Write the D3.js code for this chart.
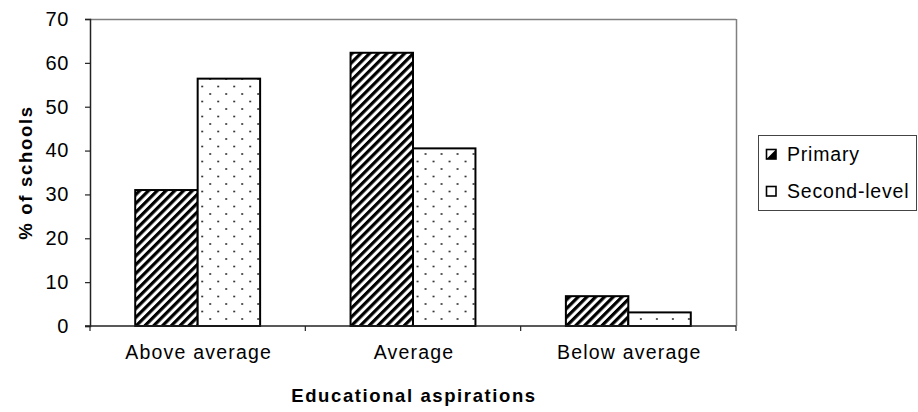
<!DOCTYPE html>
<html><head><meta charset="utf-8">
<script src="https://cdn.jsdelivr.net/npm/d3@7"></script>
<style>
html,body{margin:0;padding:0;background:#fff;}
svg{display:block;font-family:"Liberation Sans",Arial,sans-serif;}
</style></head>
<body>
<svg id="chart" width="918" height="412"></svg>
<script>
const categories = ["Above average", "Average", "Below average"];
const seriesNames = ["Primary", "Second-level"];
const primaryValues = [31, 62.3, 6.8];
const secondLevelValues = [56.4, 40.5, 3.1];
const yTicks = [0, 10, 20, 30, 40, 50, 60, 70];
const yTitle = "% of schools";
const xTitle = "Educational aspirations";

const svg = d3.select("#chart");
const L = 90, R = 736, T = 19, B = 326;

const defs = svg.append("defs");
const hatch = defs.append("pattern").attr("id","hatch").attr("patternUnits","userSpaceOnUse")
  .attr("width",6.2).attr("height",6.2).attr("patternTransform","rotate(45)");
hatch.append("rect").attr("width",6.2).attr("height",6.2).attr("fill","#fff");
hatch.append("rect").attr("x",0).attr("y",0).attr("width",3.2).attr("height",6.2).attr("fill","#000");
const dots = defs.append("pattern").attr("id","dots").attr("patternUnits","userSpaceOnUse")
  .attr("width",16).attr("height",15).attr("x",135).attr("y",0);
dots.append("rect").attr("width",16).attr("height",15).attr("fill","#fff");
dots.append("circle").attr("cx",4).attr("cy",4).attr("r",1).attr("fill","#222");
dots.append("circle").attr("cx",12).attr("cy",11.5).attr("r",1).attr("fill","#222");

const y = d3.scaleLinear().domain([0,70]).range([B,T]);
const x0 = d3.scaleBand().domain(categories).range([L,R]).paddingInner(0.42).paddingOuter(0.21);
const x1 = d3.scaleBand().domain(seriesNames).range([0,x0.bandwidth()]);
const fills = {"Primary":"url(#hatch)","Second-level":"url(#dots)"};

// plot frame (top/right grey)
svg.append("line").attr("x1",L).attr("x2",R).attr("y1",T+0.5).attr("y2",T+0.5).attr("stroke","#808080").attr("stroke-width",1.5);
svg.append("line").attr("x1",R+0.5).attr("x2",R+0.5).attr("y1",T).attr("y2",B).attr("stroke","#808080").attr("stroke-width",1.5);

const data = categories.map((c,i)=>({cat:c, vals:[
  {s:"Primary", v:primaryValues[i]}, {s:"Second-level", v:secondLevelValues[i]}]}));

const g = svg.append("g").selectAll("g").data(data).join("g")
  .attr("transform",d=>`translate(${x0(d.cat)},0)`);
g.selectAll("rect").data(d=>d.vals).join("rect")
  .attr("x",d=>x1(d.s)).attr("width",x1.bandwidth())
  .attr("y",d=>y(d.v)).attr("height",d=>B-y(d.v))
  .attr("fill",d=>fills[d.s]).attr("stroke","#000").attr("stroke-width",2);

// y axis
const yAxis = d3.axisLeft(y).tickValues(yTicks).tickSize(5).tickPadding(16);
const ya = svg.append("g").attr("transform",`translate(${L},0)`).call(yAxis);
ya.select(".domain").attr("stroke","#222").attr("stroke-width",1.5);
ya.selectAll(".tick line").attr("stroke","#222").attr("stroke-width",1.2);
ya.selectAll(".tick text").attr("font-size",20).attr("fill","#000").attr("letter-spacing",0.6)
  .attr("font-family","Liberation Sans, Arial, sans-serif");

// x axis
svg.append("line").attr("x1",L-5).attr("x2",R).attr("y1",B).attr("y2",B).attr("stroke","#222").attr("stroke-width",1.5);
const bounds = d3.range(categories.length+1).map(i=>L + i*x0.step());
svg.selectAll(".xt").data(bounds).join("line").attr("class","xt")
  .attr("x1",d=>d).attr("x2",d=>d).attr("y1",B).attr("y2",B+5).attr("stroke","#222").attr("stroke-width",1.2);
svg.selectAll(".xl").data(categories).join("text").attr("class","xl")
  .attr("x",d=>x0(d)+x0.bandwidth()/2+1).attr("y",359).attr("text-anchor","middle")
  .attr("font-size",19.5).attr("letter-spacing",1.2).text(d=>d);

// titles
svg.append("text").attr("x",(L+R)/2+1).attr("y",402).attr("text-anchor","middle")
  .attr("font-size",18.5).attr("font-weight","bold").attr("letter-spacing",1.6).text(xTitle);
svg.append("text").attr("transform",`translate(32,${(T+B)/2}) rotate(-90)`).attr("text-anchor","middle")
  .attr("font-size",18.5).attr("font-weight","bold").attr("letter-spacing",1.7).text(yTitle);

// legend
const lg = svg.append("g");
lg.append("rect").attr("x",758.5).attr("y",135.5).attr("width",158).attr("height",75)
  .attr("fill","#fff").attr("stroke","#444").attr("stroke-width",1);
const legY = [154, 191];
seriesNames.forEach((s,i)=>{
  const mx = 766.5, my = legY[i]-4.5, ms = 9.5;
  lg.append("rect").attr("x",mx).attr("y",my).attr("width",ms).attr("height",ms)
    .attr("fill","#fff").attr("stroke","#000").attr("stroke-width",1.6);
  if (i===0) {
    lg.append("path").attr("d",`M${mx+ms},${my}L${mx+ms},${my+ms}L${mx},${my+ms}Z`).attr("fill","#000");
  }
  lg.append("text").attr("x",787).attr("y",legY[i]+6.5).attr("font-size",19.5).attr("letter-spacing",0.8).text(s);
});
</script>
</body></html>
